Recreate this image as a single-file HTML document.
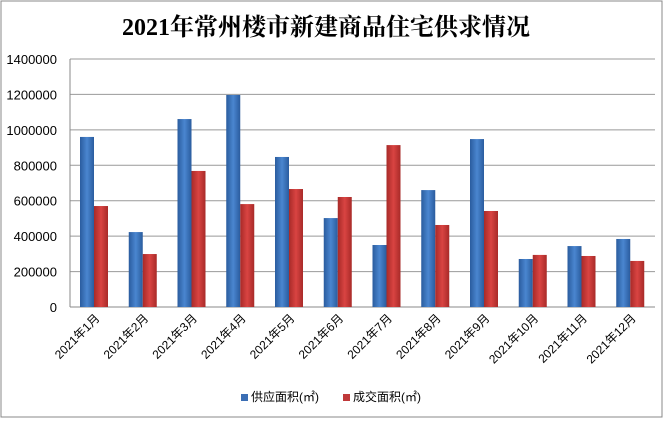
<!DOCTYPE html>
<html><head><meta charset="utf-8"><style>
body{margin:0;background:#fff;}
#c{position:relative;width:663px;height:419px;font-family:"Liberation Sans","Noto Sans CJK SC",sans-serif;}
</style></head><body>
<div id="c">
<svg id="s" width="663" height="419" xmlns="http://www.w3.org/2000/svg">
<defs>
<linearGradient id="gb" x1="0" x2="1" y1="0" y2="0"><stop offset="0" stop-color="#2a5c9e"/><stop offset="0.5" stop-color="#4a86d0"/><stop offset="1" stop-color="#2a5c9e"/></linearGradient>
<linearGradient id="gr" x1="0" x2="1" y1="0" y2="0"><stop offset="0" stop-color="#a82a28"/><stop offset="0.5" stop-color="#d94442"/><stop offset="1" stop-color="#a82a28"/></linearGradient>
</defs>
<rect x="1" y="1" width="661" height="416" fill="#fff" stroke="#888"/>
<text x="326" y="35" text-anchor="middle" font-size="24" font-weight="bold" font-family="Liberation Serif,Noto Serif CJK SC,serif">2021年常州楼市新建商品住宅供求情况</text>
<g id="grid"></g><g id="bars"></g><g id="xl"></g>
<g>
<rect x="241" y="394" width="7" height="7" fill="#3b6eb4"/>
<text x="251" y="401" font-size="12">供应面积(㎡)</text>
<rect x="343" y="394" width="7" height="7" fill="#c0393a"/>
<text x="353" y="401" font-size="12">成交面积(㎡)</text>
</g>
</svg>
</div>
<script>
const categories=["2021年1月","2021年2月","2021年3月","2021年4月","2021年5月","2021年6月","2021年7月","2021年8月","2021年9月","2021年10月","2021年11月","2021年12月"];
const supply=[960000,423000,1061000,1197000,847000,502000,350000,660000,948000,271000,344000,384000];
const deal=[570000,299000,768000,581000,666000,621000,914000,463000,542000,294000,288000,260000];
const ticks=[0,200000,400000,600000,800000,1000000,1200000,1400000];
const NS="http://www.w3.org/2000/svg";
const L=70,R=655,T=59,B=307,MAX=1400000;
const y=v=>B-(v/MAX)*(B-T);
const cw=(R-L)/categories.length;
const x=i=>L+i*cw;
function mk(t,a,p){const e=document.createElementNS(NS,t);for(const k in a)e.setAttribute(k,a[k]);p.appendChild(e);return e;}
const g=document.getElementById('grid');
ticks.forEach(t=>{
 const ln=mk('line',{x1:L,x2:R,y1:y(t),y2:y(t),stroke:t===0?'#888':'#999'},g);
 
 
 const tx=mk('text',{x:L-13,y:y(t)+5,'text-anchor':'end','font-size':'13'},g);
 tx.textContent=t;
 
 
});
const ax=mk('line',{x1:L,x2:L,y1:T,y2:B,stroke:'#888'},g);


const bg=document.getElementById('bars'),xl=document.getElementById('xl');
categories.forEach((c,i)=>{
 const bx=x(i)+10;
 const b1=mk('rect',{x:bx,y:y(supply[i]),width:14,height:B-y(supply[i]),fill:'url(#gb)'},bg);
 
 
 const b2=mk('rect',{x:bx+14,y:y(deal[i]),width:14,height:B-y(deal[i]),fill:'url(#gr)'},bg);
 
 
 const cx=x(i)+cw/2+6;
 const t=mk('text',{x:cx,y:B+12,'text-anchor':'end','font-size':'12',transform:`rotate(-45 ${cx} ${B+12})`},xl);
 t.textContent=c;
 
 
});
</script>
</body></html>
